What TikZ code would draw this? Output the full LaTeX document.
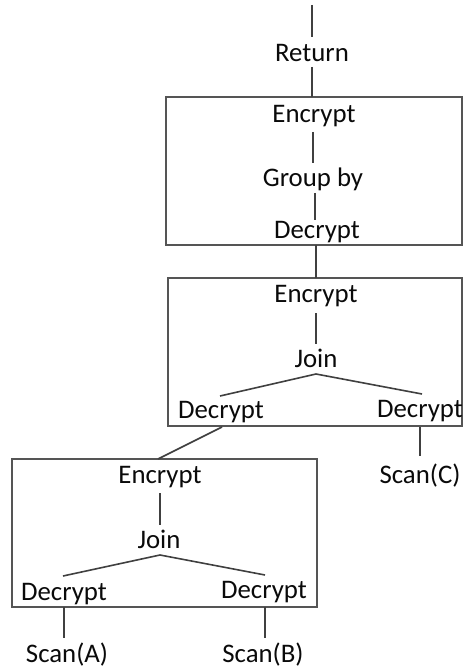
\documentclass[tikz,border=0pt]{standalone}
\usepackage{fontspec}
\setmainfont{Carlito}
\definecolor{linec}{HTML}{404040}
\definecolor{boxc}{HTML}{555555}
\definecolor{txtc}{HTML}{0A0A0A}
\begin{document}
\begin{tikzpicture}[x=1pt,y=-1pt,
  lbl/.style={anchor=base,inner sep=0pt,text=txtc,font=\fontsize{26.8}{30}\selectfont},
  conn/.style={draw=linec,line width=1.6pt},
  grp/.style={draw=boxc,line width=1.4pt}]
\useasboundingbox (0,0) rectangle (464,668);
% boxes
\draw[grp] (166,97) rectangle (462,245);
\draw[grp] (168,278) rectangle (462,426);
\draw[grp] (12,459) rectangle (317,607);
% texts
\node[lbl] (ret) at (312,62) {Return};
\node[lbl] (enc1) at (314,123) {Encrypt};
\node[lbl] (grp1) at (313,187) {Group by};
\node[lbl] (dec1) at (317,238) {Decrypt};
\node[lbl] (enc2) at (316,302) {Encrypt};
\node[lbl] (join2) at (316,367) {Join};
\node[lbl] (dec2l) at (221,418) {Decrypt};
\node[lbl] (dec2r) at (420,417) {Decrypt};
\node[lbl] (scanc) at (420,483) {Scan(C)};
\node[lbl] (enc3) at (160,483) {Encrypt};
\node[lbl] (join3) at (159,548) {Join};
\node[lbl] (dec3l) at (64,600) {Decrypt};
\node[lbl] (dec3r) at (264,598) {Decrypt};
\node[lbl] (scana) at (67,662) {Scan(A)};
\node[lbl] (scanb) at (263,662) {Scan(B)};
% connector end points
\coordinate (top) at (312,5);
\coordinate (retT) at (312,37);
\coordinate (retB) at (312,67);
\coordinate (enc1T) at (312,97);
\coordinate (enc1B) at (313,132);
\coordinate (grp1T) at (313,163);
\coordinate (grp1B) at (315,193);
\coordinate (dec1T) at (315,220);
\coordinate (dec1B) at (316,245);
\coordinate (enc2T) at (316,278);
\coordinate (enc2B) at (316,313);
\coordinate (join2T) at (316,344);
\coordinate (join2B) at (316,374);
\coordinate (dec2lT) at (220,396);
\coordinate (dec2rT) at (422,394);
\coordinate (dec2lB) at (222,427);
\coordinate (enc3T) at (158,459);
\coordinate (dec2rB) at (420,427);
\coordinate (scancT) at (420,456);
\coordinate (enc3B) at (160,493);
\coordinate (join3T) at (160,525);
\coordinate (join3B) at (160,555);
\coordinate (dec3lT) at (63,576);
\coordinate (dec3rT) at (265,575);
\coordinate (dec3lB) at (64,607);
\coordinate (scanaT) at (64,638);
\coordinate (dec3rB) at (265,607);
\coordinate (scanbT) at (265,638);
% connectors
\draw[conn] (top) -- (retT);
\draw[conn] (retB) -- (enc1T);
\draw[conn] (enc1B) -- (grp1T);
\draw[conn] (grp1B) -- (dec1T);
\draw[conn] (dec1B) -- (enc2T);
\draw[conn] (enc2B) -- (join2T);
\draw[conn] (dec2lT) -- (join2B) -- (dec2rT);
\draw[conn] (dec2lB) -- (enc3T);
\draw[conn] (dec2rB) -- (scancT);
\draw[conn] (enc3B) -- (join3T);
\draw[conn] (dec3lT) -- (join3B) -- (dec3rT);
\draw[conn] (dec3lB) -- (scanaT);
\draw[conn] (dec3rB) -- (scanbT);
\end{tikzpicture}
\end{document}
